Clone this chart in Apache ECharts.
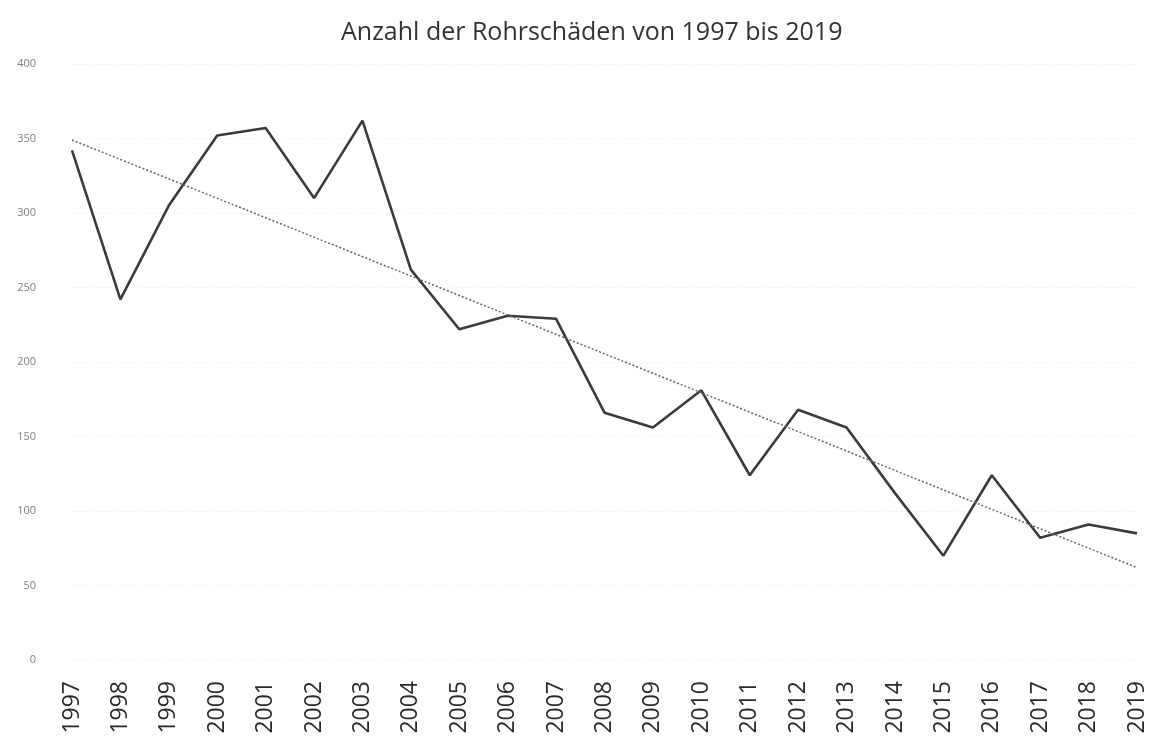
<!DOCTYPE html>
<html><head><meta charset="utf-8">
<script src="https://cdn.jsdelivr.net/npm/echarts@6/dist/echarts.min.js"></script>
<style>html,body{margin:0;padding:0;background:#fff}#c{width:1155px;height:738px}</style>
</head><body><div id="c"></div>
<script>
const years = ['1997','1998','1999','2000','2001','2002','2003','2004','2005','2006','2007','2008','2009','2010','2011','2012','2013','2014','2015','2016','2017','2018','2019'];
const damages = [342,242,305,352,357,310,362,262,222,231,229,166,156,181,124,168,156,112,70,124,82,91,85];
const trendPoints = [[0,349],[22,62]];
const yTicks = [0,50,100,150,200,250,300,350,400];

const chart = echarts.init(document.getElementById('c'));
chart.setOption({
  backgroundColor:'#fff',
  animation:false,
  title:{text:'Anzahl der Rohrschäden von 1997 bis 2019',left:336,top:15,
    textStyle:{fontFamily:'"Open Sans", sans-serif',fontWeight:'normal',fontSize:25,color:'#333'}},
  grid:{left:72,right:18,top:64,bottom:78},
  xAxis:{type:'category',data:years,boundaryGap:false,
    axisLine:{show:false},axisTick:{show:false},splitLine:{show:false},
    axisLabel:{rotate:90,margin:21,fontSize:23,color:'#2a2a2a',fontFamily:'"Open Sans", sans-serif',interval:0}},
  yAxis:{type:'value',min:0,max:400,interval:50,
    axisLine:{show:false},axisTick:{show:false},
    splitLine:{lineStyle:{color:'#f5f5f5',type:'dashed'}},
    axisLabel:{fontSize:11,color:'#808080',margin:36,align:'right',fontFamily:'"Open Sans", sans-serif',
      formatter:v=>yTicks.includes(v)?String(v):''}},
  series:[
    {type:'line',data:damages,symbol:'none',lineStyle:{color:'#3b3b3b',width:2.6}},
    {type:'line',data:trendPoints,symbol:'none',lineStyle:{color:'#666',width:1.5,type:[2,2]}}
  ]
});
</script></body></html>
